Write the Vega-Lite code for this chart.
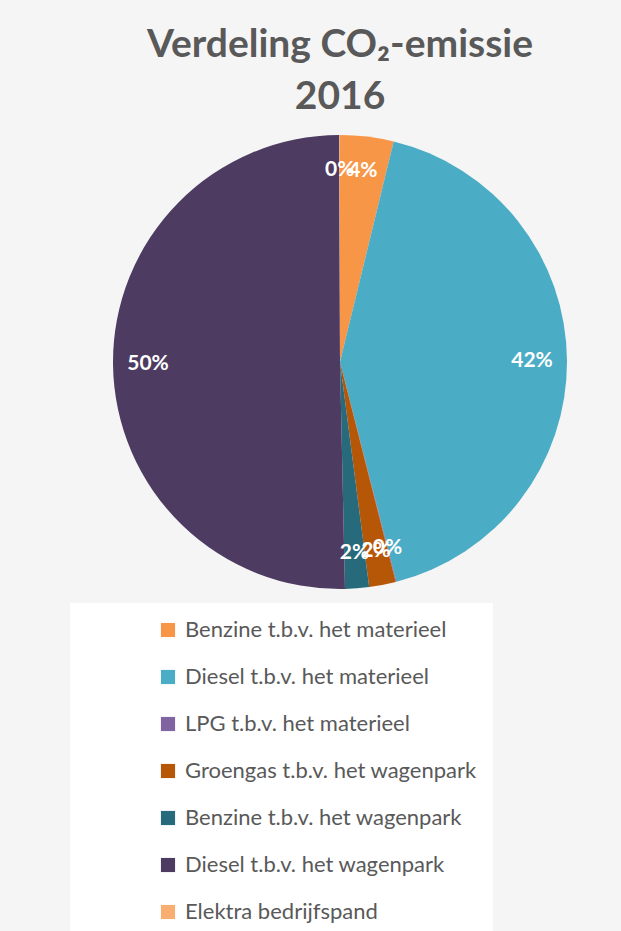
{
  "$schema": "https://vega.github.io/schema/vega-lite/v6.json",
  "width": 562,
  "height": 464,
  "autosize": {"type": "none"},
  "padding": {"left": 59, "top": 130, "right": 0, "bottom": 337},
  "background": "#f5f5f5",
  "view": {"stroke": null},
  "title": {
    "text": ["Verdeling CO₂-emissie", "2016"],
    "font": "Lato",
    "fontSize": 39,
    "fontWeight": "bold",
    "color": "#595959",
    "anchor": "middle",
    "lineHeight": 52,
    "offset": 13
  },
  "data": {
    "values": [
      {"idx": 1, "categorie": "Benzine t.b.v. het materieel", "aandeel": 0.038},
      {"idx": 2, "categorie": "Diesel t.b.v. het materieel", "aandeel": 0.422},
      {"idx": 3, "categorie": "LPG t.b.v. het materieel", "aandeel": 0.0005},
      {"idx": 4, "categorie": "Groengas t.b.v. het wagenpark", "aandeel": 0.019},
      {"idx": 5, "categorie": "Benzine t.b.v. het wagenpark", "aandeel": 0.017},
      {"idx": 6, "categorie": "Diesel t.b.v. het wagenpark", "aandeel": 0.503},
      {"idx": 7, "categorie": "Elektra bedrijfspand", "aandeel": 0.0005}
    ]
  },
  "encoding": {
    "theta": {"field": "aandeel", "type": "quantitative", "stack": true},
    "order": {"field": "idx", "type": "quantitative"},
    "color": {
      "field": "categorie",
      "type": "nominal",
      "scale": {
        "domain": ["Benzine t.b.v. het materieel", "Diesel t.b.v. het materieel", "LPG t.b.v. het materieel", "Groengas t.b.v. het wagenpark", "Benzine t.b.v. het wagenpark", "Diesel t.b.v. het wagenpark", "Elektra bedrijfspand"],
        "range": ["#F79646", "#4BACC6", "#8064A2", "#B65708", "#276A7C", "#4D3B62", "#F9AE71"]
      },
      "legend": {
        "title": null,
        "orient": "none",
        "legendX": 11,
        "legendY": 473,
        "symbolType": "square",
        "symbolSize": 200,
        "symbolStrokeWidth": 0,
        "symbolOffset": 71,
        "labelFont": "Lato",
        "labelFontSize": 22,
        "labelColor": "#595959",
        "labelOffset": 6,
        "rowPadding": 25,
        "padding": 16,
        "fillColor": "#ffffff",
        "labelLimit": 400
      }
    }
  },
  "layer": [
    {"mark": {"type": "arc", "radius": 227}},
    {
      "mark": {"type": "text", "radius": 192, "font": "Lato", "fontSize": 21, "fontWeight": "bold"},
      "encoding": {
        "text": {"field": "aandeel", "type": "quantitative", "format": ".0%"},
        "color": {"value": "#ffffff"}
      }
    }
  ]
}
